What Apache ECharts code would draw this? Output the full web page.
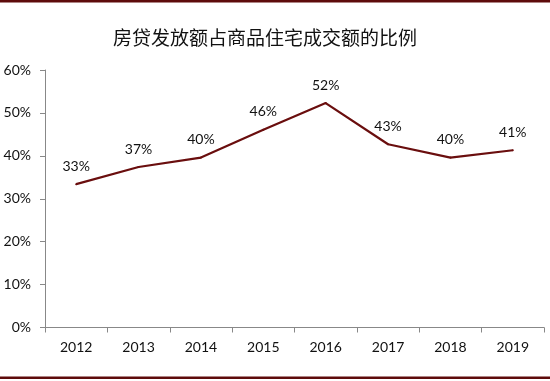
<!DOCTYPE html>
<html>
<head>
<meta charset="utf-8">
<script src="https://cdn.jsdelivr.net/npm/echarts@6/dist/echarts.min.js"></script>
<style>html,body{margin:0;padding:0;background:#fff}#c{width:550px;height:381px}</style>
</head>
<body>
<div id="c"></div>
<script>
var titleText = '房贷发放额占商品住宅成交额的比例';
var categories = ['2012','2013','2014','2015','2016','2017','2018','2019'];
var ratio = [33.4, 37.4, 39.6, 46.1, 52.3, 42.7, 39.6, 41.3];
var yTicks = [0, 10, 20, 30, 40, 50, 60];

var chart = echarts.init(document.getElementById('c'), null, {renderer:'canvas'});
var lab = {fontFamily:'Lato, "Open Sans", sans-serif', fontSize:14, color:'#111'};
chart.setOption({
  animation:false,
  backgroundColor:'#fff',
  title:{text:titleText, left:108, top:23,
    textStyle:{fontFamily:'"Noto Sans CJK SC"', fontSize:19, fontWeight:'normal', color:'#111'}},
  graphic:[
    {type:'rect', shape:{x:0,y:0,width:550,height:2.5}, style:{fill:'#5E0B0B'}},
    {type:'rect', shape:{x:0,y:376.5,width:550,height:2.5}, style:{fill:'#5E0B0B'}}
  ],
  grid:{left:45, right:6, top:70, bottom:53.5},
  xAxis:{type:'category', data:categories, boundaryGap:true,
    axisLine:{lineStyle:{color:'#888', width:1}},
    axisTick:{show:true, length:5, lineStyle:{color:'#888'}},
    axisLabel:Object.assign({margin:13}, lab),
    splitLine:{show:false}},
  yAxis:{type:'value', min:yTicks[0], max:yTicks[yTicks.length-1], interval:10,
    axisLine:{show:true, lineStyle:{color:'#888', width:1}},
    axisTick:{show:true, length:5, lineStyle:{color:'#888'}},
    axisLabel:Object.assign({margin:14, formatter:function(v){return v+'%';}}, lab),
    splitLine:{show:false}},
  series:[{type:'line', data:ratio, symbol:'circle', symbolSize:2, showSymbol:true,
    itemStyle:{color:'#6A0E0E'},
    lineStyle:{color:'#6A0E0E', width:2.2},
    label:{show:true, position:'top', distance:10, opacity:1,
      formatter:function(p){return Math.round(p.value)+'%';},
      fontFamily:lab.fontFamily, fontSize:14, color:'#111'}}]
});
</script>
</body>
</html>
